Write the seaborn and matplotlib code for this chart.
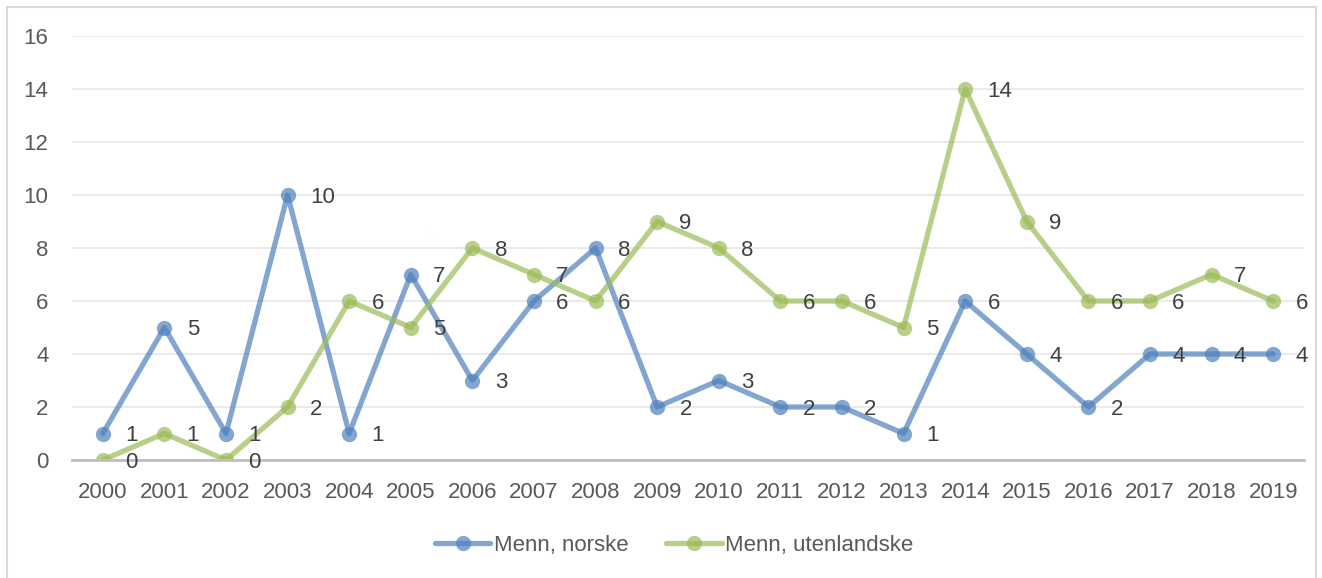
import matplotlib
matplotlib.use("Agg")
import matplotlib.pyplot as plt
import seaborn as sns
import pandas as pd
from matplotlib.patches import Rectangle
from matplotlib.lines import Line2D

years = [str(y) for y in range(2000, 2020)]
norske = [1, 5, 1, 10, 1, 7, 3, 6, 8, 2, 3, 2, 2, 1, 6, 4, 2, 4, 4, 4]
utenlandske = [0, 1, 0, 2, 6, 5, 8, 7, 6, 9, 8, 6, 6, 5, 14, 9, 6, 6, 7, 6]
series_names = ["Menn, norske", "Menn, utenlandske"]
colors = ["#4F81BD", "#9BBB59"]
yticks = [0, 2, 4, 6, 8, 10, 12, 14, 16]

sns.set_theme(style="white")
plt.rcParams["font.family"] = ["Liberation Sans", "DejaVu Sans"]

df = pd.DataFrame({
    "year": years * 2,
    "x": list(range(len(years))) * 2,
    "value": norske + utenlandske,
    "series": [series_names[0]] * len(years) + [series_names[1]] * len(years),
})

fig = plt.figure(figsize=(13.22, 5.78), dpi=100)
ax = fig.add_axes([72 / 1322, 1 - 460 / 578, (1304 - 72) / 1322, (460 - 36) / 578])

sns.lineplot(data=df, x="x", y="value", hue="series", palette=colors,
             marker="o", markersize=11, linewidth=3.8, alpha=0.7,
             markeredgewidth=0, ax=ax, legend=False)

ax.set_xlim(-0.5, len(years) - 0.5)
ax.set_ylim(0, 16)
ax.set_yticks(yticks)
ax.set_yticklabels([str(t) for t in yticks])
ax.set_xticks(range(len(years)))
ax.set_xticklabels(years)
ax.tick_params(axis="both", labelsize=16, colors="#595959", length=0)
ax.tick_params(axis="x", pad=16)
ax.tick_params(axis="y", pad=17)
ax.set_xlabel("")
ax.set_ylabel("")
ax.grid(axis="y", color="#E6E6E6", linewidth=1.2)
ax.set_axisbelow(True)
for s in ["top", "right", "left"]:
    ax.spines[s].set_visible(False)
ax.spines["bottom"].set_color("#BFBFBF")
ax.spines["bottom"].set_linewidth(2)

for vals in (norske, utenlandske):
    for i, v in enumerate(vals):
        ax.annotate(str(v), (i, v), xytext=(16, -1.5), textcoords="offset points",
                    ha="left", va="center", fontsize=16, color="#404040",
                    annotation_clip=False)

handles = [Line2D([], [], color=c, lw=3.8, alpha=0.7, marker="o", markersize=11,
                  markeredgewidth=0) for c in colors]
fig.legend(handles, series_names, loc="center", bbox_to_anchor=(674 / 1322, 1 - 545 / 578),
           ncol=2, frameon=False, fontsize=16, labelcolor="#595959",
           handlelength=2.5, handletextpad=0.15, columnspacing=1.7)

fig.patches.append(Rectangle((7 / 1322, -0.01), (1316 - 7) / 1322, 1 - 7 / 578 + 0.01,
                             transform=fig.transFigure, fill=False,
                             edgecolor="#D9D9D9", linewidth=1.5))

fig.savefig("out.png", dpi=100, facecolor="white")
